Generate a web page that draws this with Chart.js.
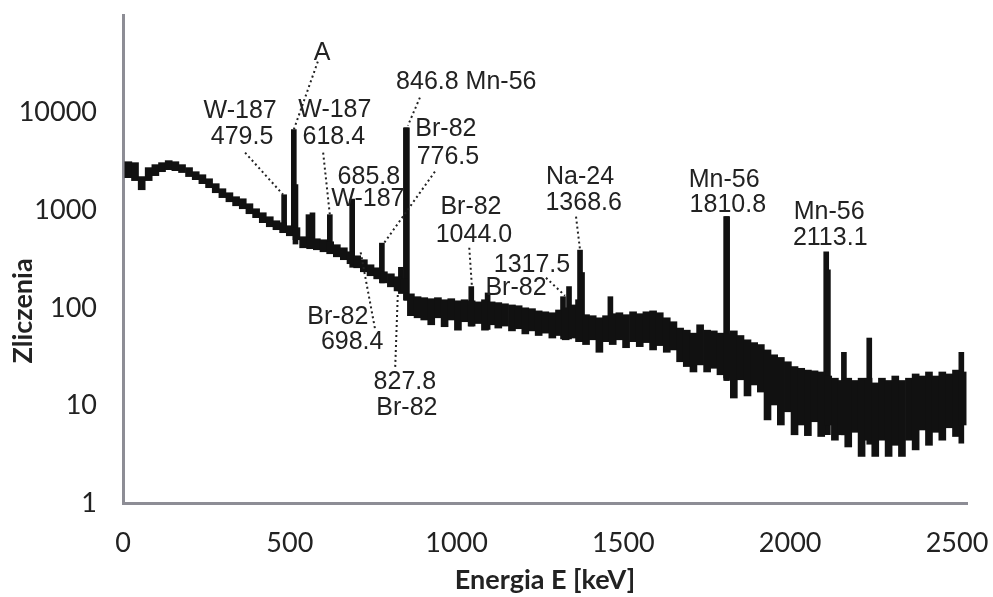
<!DOCTYPE html>
<html>
<head>
<meta charset="utf-8">
<title>Widmo gamma</title>
<script src="https://cdn.jsdelivr.net/npm/chart.js@4.4.1/dist/chart.umd.min.js"></script>
<style>
    html, body { margin: 0; padding: 0; background: #fff; }
    #wrap { width: 993px; height: 597px; }
</style>
</head>
<body>
<div id="wrap"><canvas id="spectrumChart"></canvas></div>
<script>
// energy bins (keV, bin centres, ~20 keV wide)
const binEnergy = [
    16, 36, 56, 77, 97, 117, 137, 157, 177, 198,
    218, 238, 258, 278, 298, 319, 339, 359, 379, 399,
    419, 440, 460, 480, 500, 520, 540, 561, 581, 601,
    621, 641, 662, 682, 702, 722, 742, 762, 782, 803,
    823, 843, 863, 883, 903, 924, 944, 964, 984, 1004,
    1024, 1045, 1065, 1085, 1105, 1125, 1145, 1166, 1186, 1206,
    1226, 1246, 1266, 1287, 1307, 1327, 1347, 1367, 1388, 1408,
    1428, 1448, 1468, 1488, 1508, 1529, 1549, 1569, 1589, 1609,
    1630, 1650, 1670, 1690, 1710, 1730, 1751, 1771, 1791, 1811,
    1831, 1851, 1872, 1892, 1912, 1932, 1952, 1972, 1993, 2013,
    2033, 2053, 2073, 2093, 2114, 2134, 2154, 2174, 2194, 2214,
    2235, 2255, 2275, 2295, 2315, 2335, 2356, 2376, 2396, 2416,
    2436, 2456, 2477, 2497, 2517
];

// highest counts seen in each bin
const binUpper = [
    3140, 3070, 2210, 2730, 2930, 3070, 3220, 3140, 2930, 2730,
    2480, 2310, 2100, 1870, 1660, 1510, 1375, 1310, 1165, 1035,
    942, 857, 780, 745, 693, 662, 535, 522, 510, 498,
    475, 443, 412, 375, 341, 311, 276, 257, 234, 223,
    208, 198, 139, 130, 127, 124, 127, 121, 124, 118,
    121, 118, 115, 121, 115, 113, 110, 107, 105, 100,
    98, 93, 91, 89, 95, 100, 107, 121, 85, 83,
    79, 83, 87, 89, 85, 91, 87, 91, 93, 89,
    79, 72, 62, 59, 55, 67, 59, 58, 55, 54,
    58, 52, 47, 44, 42, 37, 33, 31, 28, 25,
    24, 23, 22.6, 22, 20, 19, 18, 19, 18, 19,
    19, 17, 19, 18, 20, 18, 19, 21, 20, 22,
    20, 22, 21, 23, 22
];

// lowest counts seen in each bin
const binLower = [
    2155, 2010, 1620, 2010, 2260, 2480, 2600, 2540, 2430, 2210,
    2055, 1870, 1700, 1510, 1345, 1220, 1110, 1035, 920, 838,
    745, 677, 631, 588, 547, 498, 412, 403, 393, 375,
    358, 333, 311, 283, 257, 234, 213, 198, 180, 164,
    149, 143, 83, 79, 75, 67, 79, 64, 75, 59,
    72, 65, 69, 59, 67, 62, 65, 58, 61, 54,
    58, 52, 55, 49, 52, 47, 49, 45, 42, 47,
    35, 45, 42, 47, 39, 45, 40, 44, 37, 41,
    35, 37, 28, 25, 22, 26, 22, 24, 20.6, 19.1,
    11.9, 18.3, 12.5, 16.2, 13.7, 7.1, 10.1, 6.3, 8.6, 5,
    6.3, 4.9, 6.8, 4.8, 6.3, 4.4, 5, 3.75, 5.3, 3,
    4.4, 3, 4.4, 3, 3.9, 3, 4.4, 3.5, 5.6, 3.9,
    5.3, 4.4, 5.9, 4.8, 6.3
];

// narrow photopeaks on top of the continuum
const peakEnergy = [483, 512, 517, 556, 568, 620, 687, 776, 833, 848, 851, 1044, 1093,
    1319, 1337, 1370, 1376, 1461, 1808, 1811, 2108, 2113, 2161, 2237, 2513];
const peakTop = [1440, 6700, 1830, 900, 940, 900, 1300, 460, 260, 7000, 7000, 165, 142,
    130, 165, 390, 230, 130, 860, 860, 375, 245, 35, 49, 35];
const peakBase = [650, 550, 450, 450, 450, 380, 260, 180, 140, 120, 120, 65, 60,
    48, 48, 45, 45, 45, 18, 18, 5, 5, 5, 4, 4.1];

const xTickValues = [0, 500, 1000, 1500, 2000, 2500];
const yTickValues = [1, 10, 100, 1000, 10000];

// peak labels, placed in chart units [keV, counts]
const notes = [
    { text: 'A', at: [597, 40300] },
    { text: 'W-187', at: [351, 10240] },
    { text: '479.5', at: [357, 5545] },
    { text: 'W-187', at: [635, 10730] },
    { text: '618.4', at: [632, 5545] },
    { text: '685.8', at: [737, 2207] },
    { text: 'W-187', at: [734, 1312] },
    { text: '846.8 Mn-56', at: [1029, 20300] },
    { text: 'Br-82', at: [968, 6700] },
    { text: '776.5', at: [974, 3540] },
    { text: 'Br-82', at: [644, 81] },
    { text: '698.4', at: [687, 45] },
    { text: '827.8', at: [845, 17.4] },
    { text: 'Br-82', at: [851, 9.4] },
    { text: 'Br-82', at: [1043, 1086] },
    { text: '1044.0', at: [1052, 561] },
    { text: '1317.5', at: [1226, 276] },
    { text: 'Br-82', at: [1178, 160] },
    { text: 'Na-24', at: [1370, 2207] },
    { text: '1368.6', at: [1381, 1194] },
    { text: 'Mn-56', at: [1802, 2055] },
    { text: '1810.8', at: [1813, 1138] },
    { text: 'Mn-56', at: [2117, 965] },
    { text: '2113.1', at: [2120, 522] },
];

// dotted leader lines from label to peak
const leaders = [
    { from: [584, 33350], to: [512, 6700] },
    { from: [366, 3890], to: [480, 1442] },
    { from: [600, 3890], to: [620, 899] },
    { from: [890, 14250], to: [854, 7360] },
    { from: [935, 2484], to: [779, 443] },
    { from: [755, 62], to: [711, 393] },
    { from: [816, 24.8], to: [824, 146] },
    { from: [1038, 412], to: [1046, 164] },
    { from: [1268, 203], to: [1325, 133] },
    { from: [1358, 858], to: [1370, 393] },
];

const yTitle = 'Zliczenia';

const axisGrey = '#8d8d95';
const inkColor = '#222222';

const peakNotesPlugin = {
    id: 'peakNotes',
    afterDatasetsDraw(chart) {
        const ctx = chart.ctx;
        const xs = chart.scales.x;
        const ys = chart.scales.y;
        ctx.save();
        ctx.strokeStyle = inkColor;
        ctx.lineWidth = 2;
        ctx.setLineDash([2, 3]);
        leaders.forEach(l => {
            ctx.beginPath();
            ctx.moveTo(xs.getPixelForValue(l.from[0]), ys.getPixelForValue(l.from[1]));
            ctx.lineTo(xs.getPixelForValue(l.to[0]), ys.getPixelForValue(l.to[1]));
            ctx.stroke();
        });
        ctx.setLineDash([]);
        ctx.fillStyle = inkColor;
        ctx.font = '25px "Liberation Sans", Arial, sans-serif';
        ctx.textAlign = 'center';
        ctx.textBaseline = 'middle';
        notes.forEach(n => {
            ctx.fillText(n.text, xs.getPixelForValue(n.at[0]), ys.getPixelForValue(n.at[1]));
        });

        // y axis title sits a bit below the middle of the axis in the original
        ctx.translate(23, chart.chartArea.bottom - 192);
        ctx.rotate(-Math.PI / 2);
        ctx.font = 'bold 27px Lato, sans-serif';
        ctx.fillText(yTitle, 0, 0);
        ctx.restore();
    }
};

const continuumData = binEnergy.map((e, i) => ({ x: e, y: [binLower[i], binUpper[i]] }));
const peakData = peakEnergy.map((e, i) => ({ x: e, y: [peakBase[i], peakTop[i]] }));

const tickFont = { family: 'Lato', size: 27 };
const titleFont = { family: 'Lato', size: 27, weight: 'bold', lineHeight: 1.2 };

new Chart(document.getElementById('spectrumChart'), {
    type: 'bar',
    data: {
        datasets: [
            {
                label: 'continuum',
                data: continuumData,
                backgroundColor: '#111111',
                borderWidth: 0,
                barThickness: 7,
                grouped: false,
            },
            {
                label: 'peaks',
                data: peakData,
                backgroundColor: '#111111',
                borderWidth: 0,
                barThickness: 5,
                grouped: false,
            }
        ]
    },
    options: {
        responsive: true,
        maintainAspectRatio: false,
        animation: false,
        layout: { padding: { top: 15, right: 26, left: 0, bottom: 0 } },
        plugins: {
            legend: { display: false },
            tooltip: { enabled: false },
        },
        scales: {
            x: {
                type: 'linear',
                min: 0,
                max: 2530,
                offset: false,
                grid: { drawOnChartArea: false, drawTicks: false },
                border: { display: true, color: axisGrey, width: 3 },
                afterBuildTicks: axis => {
                    axis.ticks = xTickValues.map(v => ({ value: v }));
                },
                afterFit: axis => {
                    axis.height = 94;
                    axis.paddingLeft = 0;
                    axis.paddingRight = 0;
                },
                ticks: {
                    font: tickFont,
                    color: inkColor,
                    padding: 24,
                    maxRotation: 0,
                    callback: v => String(v),
                },
                title: {
                    display: true,
                    text: 'Energia E [keV]',
                    font: titleFont,
                    color: inkColor,
                    padding: { top: 0, bottom: 1 },
                }
            },
            y: {
                type: 'logarithmic',
                min: 1,
                max: 100000,
                grid: { drawOnChartArea: false, drawTicks: false },
                border: { display: true, color: axisGrey, width: 3 },
                afterBuildTicks: axis => {
                    axis.ticks = yTickValues.map(v => ({ value: v }));
                },
                afterFit: axis => {
                    axis.width = 123;
                    axis.paddingTop = 0;
                    axis.paddingBottom = 0;
                },
                ticks: {
                    font: tickFont,
                    color: inkColor,
                    padding: 26,
                    callback: v => String(v),
                },
                title: { display: false }
            }
        }
    },
    plugins: [peakNotesPlugin]
});
</script>
</body>
</html>
